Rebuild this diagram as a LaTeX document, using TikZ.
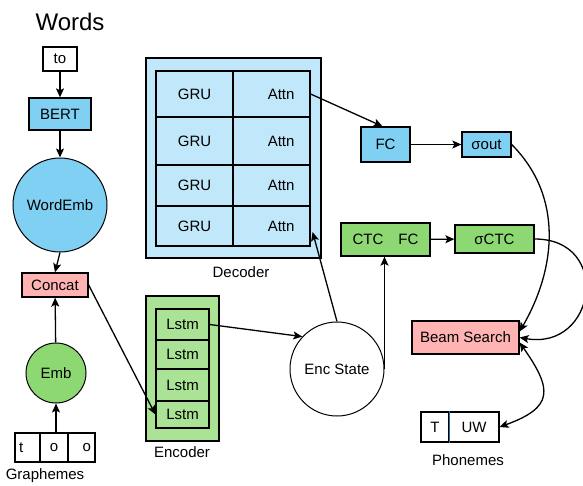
\documentclass[tikz,border=0pt]{standalone}
\usepackage{fontspec}
\setmainfont{Liberation Sans}
\usepackage{tikz}
\usetikzlibrary{arrows.meta,positioning}
\definecolor{skyblue}{RGB}{128,208,244}
\definecolor{paleblue}{RGB}{192,232,250}
\definecolor{rosepink}{RGB}{255,179,179}
\definecolor{leafgreen}{RGB}{141,216,115}
\definecolor{palegreen}{RGB}{170,226,150}
\definecolor{divblue}{RGB}{40,110,150}
\tikzset{
  box/.style={draw, line width=1.3pt, inner sep=0pt, font=\fontsize{15}{18}\selectfont},
  cell/.style={box, line width=1.2pt},
  blob/.style={draw, circle, line width=1pt, inner sep=0pt, font=\fontsize{15}{18}\selectfont},
  lbl/.style={font=\fontsize{15}{18}\selectfont},
  arr/.style={line width=1.3pt, -{Stealth[length=9pt,width=8pt,inset=2pt]}}
}

\begin{document}
\begin{tikzpicture}[x=1pt, y=-1pt]
  \useasboundingbox (0,0) rectangle (583,485);
  \node[lbl, font=\fontsize{24}{28}\selectfont] (words) at (70,22) {Words};
  \node[box, fill=white, minimum width=34, minimum height=24] (to) at (60,59) {to};
  \node[box, fill=skyblue, minimum width=62, minimum height=32] (bert) at (60,114) {BERT};
  \node[blob, fill=skyblue, minimum size=94] (wordemb) at (60,205) {WordEmb};
  \node[box, fill=rosepink, minimum width=66, minimum height=24] (concat) at (55,285) {Concat};
  \node[blob, fill=leafgreen, minimum size=60] (emb) at (56,373) {Emb};
  \node[cell, fill=white, minimum width=25, minimum height=29, text width=17pt, align=left] (ch1) at (27.5,447.5) {t};
  \node[cell, fill=white, minimum width=28, minimum height=29] (ch2) at (54,447.5) {o};
  \node[cell, fill=white, minimum width=27, minimum height=29, text width=19pt, align=right] (ch3) at (81.5,447.5) {o};
  \node[lbl] (grlbl) at (45,476) {Graphemes};

  \node[box, fill=paleblue, minimum width=175, minimum height=200] (decoder) at (233.5,158) {};
  \foreach \i/\y/\h in {1/94/46, 2/141/48, 3/185.5/41, 4/226/40} {
    \node[cell, minimum width=77, minimum height=\h] (gru\i) at (194.5,\y) {GRU};
    \node[cell, minimum width=77, minimum height=\h, text width=46pt, align=right] (attn\i) at (271.5,\y) {Attn};
  }
  \node[lbl] (declbl) at (241,272) {Decoder};

  \node[box, fill=palegreen, minimum width=73, minimum height=145] (encoder) at (182.5,368.5) {};
  \foreach \i/\y/\h in {1/324.5/31, 2/354.5/29, 3/385/32, 4/414.5/27}
    \node[cell, fill=palegreen, minimum width=53, minimum height=\h] (lstm\i) at (182.5,\y) {Lstm};
  \node[lbl] (enclbl) at (182,452) {Encoder};

  \node[blob, fill=white, minimum size=94] (encstate) at (337,369) {Enc State};
  \node[box, fill=skyblue, minimum width=49, minimum height=35] (fc) at (385.5,144.5) {FC};
  \node[box, fill=skyblue, minimum width=49, minimum height=25] (sout) at (486.5,144.5) {σout};
  \node[box, fill=leafgreen, minimum width=89, minimum height=33] (ctcfc) at (385.5,239.5) {CTC\quad FC};
  \node[box, fill=leafgreen, minimum width=79, minimum height=28] (sctc) at (494.5,239) {σCTC};
  \node[box, fill=rosepink, minimum width=107, minimum height=33] (beam) at (465.5,337.5) {Beam Search};
  \node[cell, fill=white, minimum width=28, minimum height=30] (ph1) at (435,427) {T};
  \node[cell, fill=white, minimum width=50, minimum height=30] (ph2) at (474,427) {UW};
  \draw[divblue, line width=1pt] (ph1.north east) -- (ph1.south east);
  \node[lbl] (phlbl) at (468,460) {Phonemes};

  \draw[arr] (to) -- (bert);
  \draw[arr] (bert) -- (wordemb);
  \draw[arr] (wordemb.south) -- (concat.north);
  \draw[arr] (emb) -- (concat);
  \draw[arr] (emb.south |- ch2.north) -- (emb.south);
  \draw[arr] (concat.east) -- (lstm4.west);
  \draw[arr] (lstm1.east) -- (encstate.137);
  \draw[arr] (encstate.north) -- ([xshift=2pt,yshift=-6pt]attn4.east);
  \draw[arr] (encstate.east) -- (encstate.east |- ctcfc.south);
  \draw[arr] (attn1.east) -- ([xshift=-3pt]fc.north);
  \draw[arr] (fc) -- (sout);
  \draw[arr] (ctcfc) -- (sctc);
  \draw[arr] (sout.east) to[out=-45, in=60] ([yshift=6pt]beam.east);
  \draw[arr] (sctc.east) to[out=0, in=-10, looseness=2] (beam.east);
  \draw[arr, {Stealth[length=9pt,width=8pt,inset=2pt]}-{Stealth[length=9pt,width=8pt,inset=2pt]}] ([yshift=-5pt]beam.east) to[out=-55, in=20, looseness=1.7] (ph2.east);
\end{tikzpicture}
\end{document}
